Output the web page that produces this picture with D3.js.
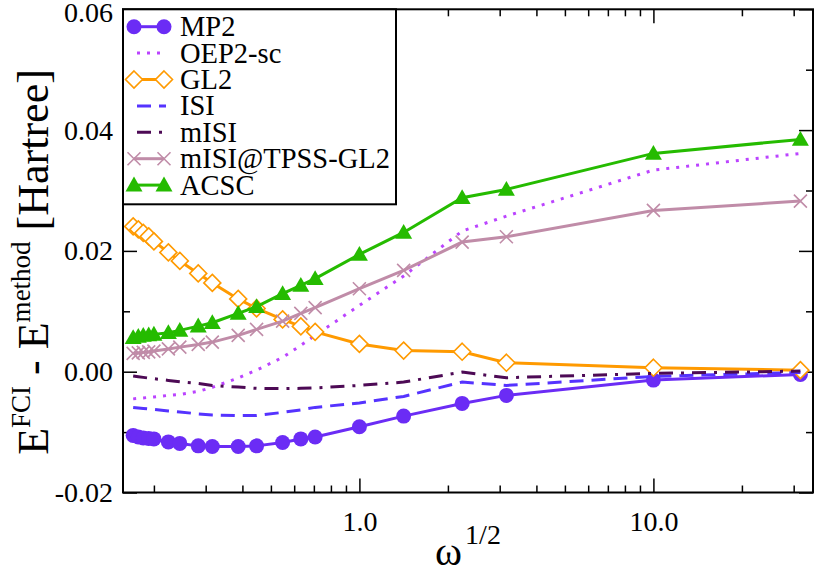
<!DOCTYPE html>
<html>
<head>
<meta charset="utf-8">
<script src="https://cdn.jsdelivr.net/npm/d3@7"></script>
<style>
  body { margin: 0; background: #fff; }
  text { font-family: "Liberation Serif", "Times New Roman", serif; fill: #000; }
</style>
</head>
<body>
<svg id="chart" width="814" height="571"></svg>
<script>
// omega^1/2 values (shared by all sets)
const xVals = [0.17, 0.177, 0.184, 0.192, 0.2, 0.224, 0.245, 0.283, 0.316, 0.387,
               0.447, 0.548, 0.632, 0.707, 1.0, 1.414, 2.236, 3.162, 10.0, 31.62];

const mp2 = [-0.01055, -0.0108, -0.01096, -0.01104, -0.01113, -0.01162, -0.01187, -0.01228, -0.01238, -0.01238,
             -0.01228, -0.01171, -0.01113, -0.0108, -0.00911, -0.00735, -0.00525, -0.00392, -0.00139, -0.00045];
const oep2sc = [-0.0045, -0.00442, -0.00434, -0.00425, -0.00417, -0.00392, -0.00376, -0.00326, -0.0026, -0.00103,
                0.00026, 0.00237, 0.00435, 0.00601, 0.01098, 0.01583, 0.02328, 0.02576, 0.03338, 0.03614];
const gl2 = [0.02406, 0.02356, 0.02298, 0.0224, 0.02157, 0.01975, 0.01834, 0.01627, 0.0147, 0.01205,
             0.01048, 0.00866, 0.0075, 0.00659, 0.0046, 0.0035, 0.00331, 0.00149, 0.00066, 0.00026];
const isi = [-0.00591, -0.006, -0.00608, -0.00616, -0.00624, -0.00649, -0.00666, -0.00699, -0.00715, -0.00728,
             -0.00724, -0.00674, -0.00632, -0.00591, -0.00517, -0.00409, -0.00172, -0.00227, -0.00078, -0.00012];
const misi = [-0.0007, -0.00083, -0.00094, -0.00106, -0.00116, -0.00144, -0.00166, -0.00194, -0.00227, -0.00255,
              -0.00276, -0.00281, -0.00276, -0.00268, -0.00227, -0.00172, -0.00007, -0.00099, -0.00028, 0.0001];
const misiTpss = [0.00303, 0.00311, 0.0032, 0.00328, 0.00341, 0.00377, 0.00407, 0.00452, 0.0049, 0.00601,
                  0.007, 0.00838, 0.00965, 0.0106, 0.01374, 0.01677, 0.02146, 0.02235, 0.0267, 0.02825];
const acsc = [0.00563, 0.00584, 0.00601, 0.00609, 0.00618, 0.00646, 0.00684, 0.00755, 0.00811, 0.00965,
              0.01076, 0.01291, 0.01429, 0.0154, 0.01942, 0.02306, 0.02881, 0.03018, 0.03614, 0.03846];

const seriesNames = ["MP2", "OEP2-sc", "GL2", "ISI", "mISI", "mISI@TPSS-GL2", "ACSC"];

const yMajorTicks = [-0.02, 0.00, 0.02, 0.04, 0.06];
const yMinorTicks = [-0.01, 0.01, 0.03, 0.05];
const xMajorTicks = [1, 10];
const xMinorTicks = [0.2, 0.3, 0.4, 0.5, 0.6, 0.7, 0.8, 0.9, 2, 3, 4, 5, 6, 7, 8, 9, 20, 30];

const svg = d3.select("#chart");

const pLeft = 123, pRight = 813, pTop = 9.3, pBottom = 492.5;

const x = d3.scaleLog().domain([0.157, 34.9]).range([pLeft, pRight]);
const y = d3.scaleLinear().domain([-0.02, 0.06]).range([pBottom, pTop]);

const styles = [
  {data: mp2, color: "#6b2cf5", dash: null, marker: "circle"},
  {data: oep2sc, color: "#bb44ff", dash: "3,7", marker: null},
  {data: gl2, color: "#ff9a00", dash: null, marker: "diamond"},
  {data: isi, color: "#5533ff", dash: "14,8", marker: null},
  {data: misi, color: "#4d0a55", dash: "14,8,3,8", marker: null},
  {data: misiTpss, color: "#c08ca8", dash: null, marker: "cross"},
  {data: acsc, color: "#25bb00", dash: null, marker: "triangle"}
];

// axes (ticks point inward)
const fmt = d => d3.format(".2f")(d).replace("−", "-");

svg.append("g")
  .attr("transform", `translate(${pLeft},0)`)
  .call(d3.axisLeft(y).tickValues(yMajorTicks).tickSize(-14).tickPadding(10).tickFormat(fmt))
  .call(g => g.select(".domain").remove());
svg.append("g")
  .attr("transform", `translate(${pLeft},0)`)
  .call(d3.axisLeft(y).tickValues(yMinorTicks).tickSize(-7).tickFormat(""))
  .call(g => g.select(".domain").remove());
svg.append("g")
  .attr("transform", `translate(${pRight},0)`)
  .call(d3.axisRight(y).tickValues(yMajorTicks).tickSize(-14).tickFormat(""))
  .call(g => g.select(".domain").remove());
svg.append("g")
  .attr("transform", `translate(${pRight},0)`)
  .call(d3.axisRight(y).tickValues(yMinorTicks).tickSize(-7).tickFormat(""))
  .call(g => g.select(".domain").remove());

svg.append("g")
  .attr("transform", `translate(0,${pBottom})`)
  .call(d3.axisBottom(x).tickValues(xMajorTicks).tickSize(-14).tickPadding(19).tickFormat(d3.format(".1f")))
  .call(g => g.select(".domain").remove());
svg.append("g")
  .attr("transform", `translate(0,${pBottom})`)
  .call(d3.axisBottom(x).tickValues(xMinorTicks).tickSize(-7).tickFormat(""))
  .call(g => g.select(".domain").remove());
svg.append("g")
  .attr("transform", `translate(0,${pTop})`)
  .call(d3.axisTop(x).tickValues(xMajorTicks).tickSize(-14).tickFormat(""))
  .call(g => g.select(".domain").remove());
svg.append("g")
  .attr("transform", `translate(0,${pTop})`)
  .call(d3.axisTop(x).tickValues(xMinorTicks).tickSize(-7).tickFormat(""))
  .call(g => g.select(".domain").remove());

svg.selectAll(".tick line").attr("stroke", "#000").attr("stroke-width", 1.5);
svg.selectAll(".tick text").attr("font-size", 28).attr("font-family", "Liberation Serif");
// keep the top label inside the page
svg.selectAll(".tick text").filter(d => d === 0.06).attr("dy", "0.45em");

// marker drawing
function drawMarker(g, type, cx, cy, color) {
  if (type === "circle") {
    g.append("circle").attr("cx", cx).attr("cy", cy).attr("r", 7.5).attr("fill", color);
  } else if (type === "diamond") {
    const s = 8.5;
    g.append("path")
      .attr("d", `M${cx},${cy - s}L${cx + s},${cy}L${cx},${cy + s}L${cx - s},${cy}Z`)
      .attr("fill", "#fff").attr("stroke", color).attr("stroke-width", 1.6);
  } else if (type === "triangle") {
    const s = 8.5;
    g.append("path")
      .attr("d", `M${cx},${cy - s}L${cx + s},${cy + s * 0.75}L${cx - s},${cy + s * 0.75}Z`)
      .attr("fill", color);
  } else if (type === "cross") {
    const s = 6.5;
    g.append("path")
      .attr("d", `M${cx - s},${cy - s}L${cx + s},${cy + s}M${cx - s},${cy + s}L${cx + s},${cy - s}`)
      .attr("stroke", color).attr("stroke-width", 1.6).attr("fill", "none");
  }
}

const line = d3.line().x(d => x(d[0])).y(d => y(d[1]));

styles.forEach(s => {
  const pts = xVals.map((xv, i) => [xv, s.data[i]]);
  const g = svg.append("g");
  g.append("path")
    .attr("d", line(pts))
    .attr("fill", "none")
    .attr("stroke", s.color)
    .attr("stroke-width", 3)
    .attr("stroke-dasharray", s.dash);
  if (s.marker) {
    pts.forEach(p => drawMarker(g, s.marker, x(p[0]), y(p[1]), s.color));
  }
});

// frame
svg.append("rect")
  .attr("x", pLeft).attr("y", pTop)
  .attr("width", pRight - pLeft).attr("height", pBottom - pTop)
  .attr("fill", "none").attr("stroke", "#000").attr("stroke-width", 2);

// legend
const legend = svg.append("g");
legend.append("rect")
  .attr("x", pLeft).attr("y", pTop)
  .attr("width", 273).attr("height", 195)
  .attr("fill", "#fff").attr("stroke", "#000").attr("stroke-width", 2);

seriesNames.forEach((name, i) => {
  const s = styles[i];
  const cy = 26.7 + i * 26.4;
  const x0 = s.marker ? 134 : 137, x1 = s.marker ? 164 : 166;
  legend.append("line")
    .attr("x1", x0).attr("x2", x1).attr("y1", cy).attr("y2", cy)
    .attr("stroke", s.color).attr("stroke-width", 3)
    .attr("stroke-dasharray", s.dash);
  if (s.marker) {
    drawMarker(legend, s.marker, x0, cy, s.color);
    drawMarker(legend, s.marker, x1, cy, s.color);
  }
  legend.append("text")
    .attr("x", 180).attr("y", cy + 9.5)
    .attr("font-size", 28.5)
    .text(name);
});

// axis titles
const yTitle = svg.append("text")
  .attr("transform", "translate(48,262) rotate(-90)")
  .attr("text-anchor", "middle")
  .attr("font-size", 44);
yTitle.append("tspan").text("E");
yTitle.append("tspan").attr("font-size", 27).attr("dy", -18).text("FCI");
yTitle.append("tspan").attr("dy", 18).text(" - E");
yTitle.append("tspan").attr("font-size", 27).attr("dy", -18).text("method");
yTitle.append("tspan").attr("dy", 18).text(" [Hartree]");

const xTitle = svg.append("text")
  .attr("x", (pLeft + pRight) / 2)
  .attr("y", 565)
  .attr("text-anchor", "middle")
  .attr("font-size", 41);
xTitle.append("tspan").text("ω");
xTitle.append("tspan").attr("font-size", 28).attr("dx", 3).attr("dy", -21).text("1/2");
</script>
</body>
</html>
